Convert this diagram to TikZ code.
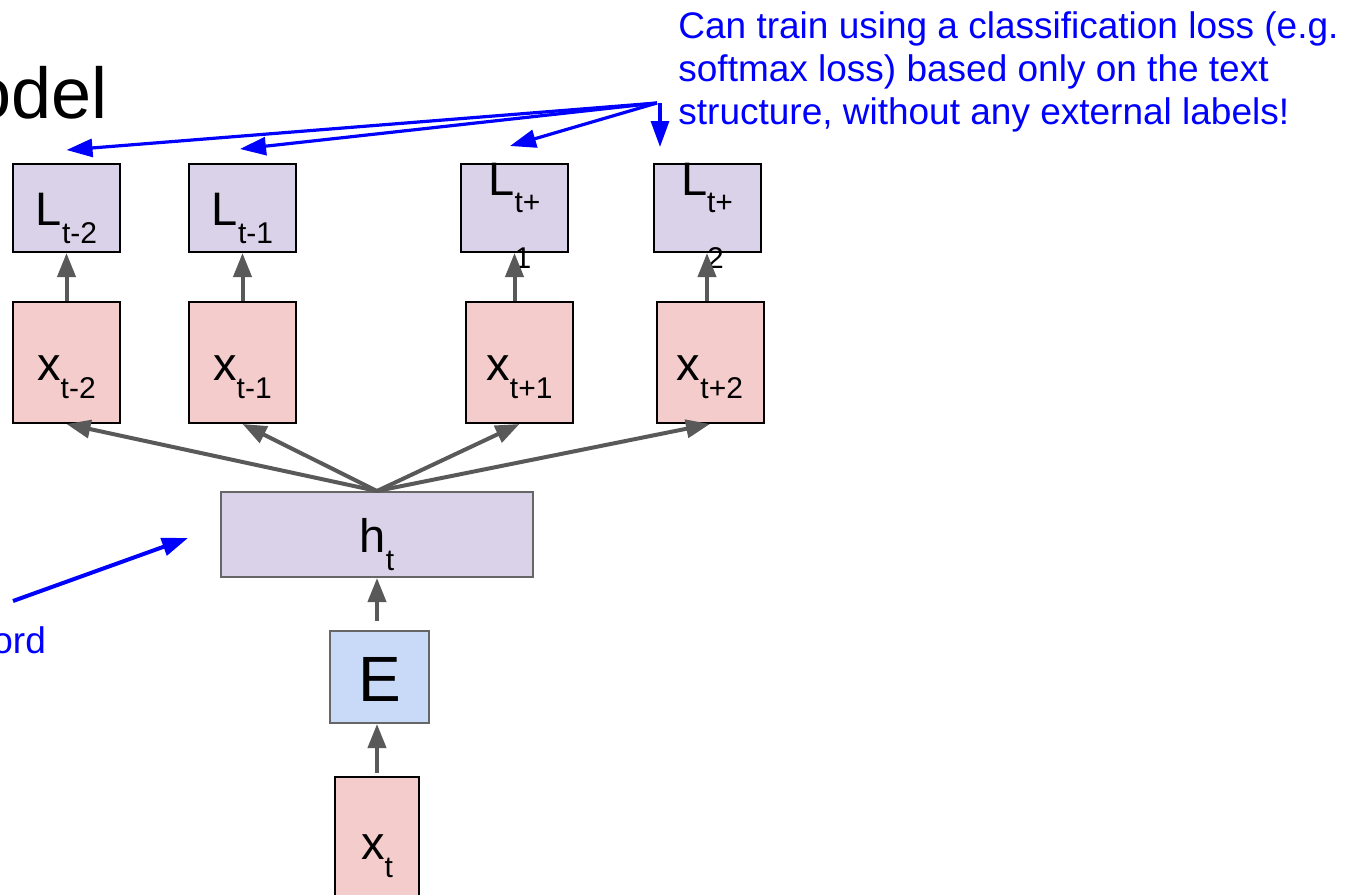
\documentclass[tikz,border=0pt]{standalone}
\usepackage{fontspec}
\setmainfont{Liberation Sans}
\usetikzlibrary{arrows.meta, positioning, calc}

\definecolor{lossfill}{HTML}{D9D2E9}
\definecolor{wordfill}{HTML}{F4CCCC}
\definecolor{embfill}{HTML}{C9DAF8}
\definecolor{arrowgray}{HTML}{595959}
\definecolor{framegray}{HTML}{666666}

\tikzset{
  loss/.style={draw=black, line width=1pt, fill=lossfill, minimum width=53.5pt, minimum height=44pt, inner sep=0pt},
  word/.style={draw=black, line width=1pt, fill=wordfill, minimum width=53.5pt, minimum height=60.5pt, inner sep=0pt},
  lbl/.style={anchor=base, inner sep=0pt, font=\fontsize{23.5}{27}\selectfont},
  flow/.style={draw=arrowgray, line width=2pt, -{Triangle[length=12pt,width=9pt]}},
  hint/.style={draw=blue, line width=1.6pt, -{Triangle[length=13pt,width=9pt]}},
  note/.style={text=blue, inner sep=0pt, font=\fontsize{18.5}{21.5}\selectfont},
}
% letter with a lowered index, and one whose index breaks onto a second line
\newcommand{\idx}[2]{#1\raisebox{-9pt}{\fontsize{15}{18}\selectfont #2}}
\newcommand{\idxwrap}[3]{#1\raisebox{-8.5pt}{\fontsize{15}{28}\selectfont\begin{tabular}[t]{@{}l@{}}#2\\#3\end{tabular}}}

\begin{document}
\begin{tikzpicture}[x=0.5pt, y=-0.5pt]
\useasboundingbox (0,0) rectangle (1348,894);

% loss boxes
\node[loss] (Lm2) at (66.5,208) {};
\node[loss] (Lm1) at (242.5,208) {};
\node[loss] (Lp1) at (514.5,208) {};
\node[loss] (Lp2) at (707,208) {};

% context words
\node[word, below=24pt of Lm2] (xm2) {};
\node[word, below=24pt of Lm1] (xm1) {};
\node[word, below=24pt of Lp1, xshift=2.5pt] (xp1) {};
\node[word, below=24pt of Lp2, xshift=1.5pt] (xp2) {};

% hidden layer, embedding, center word
\node[draw=framegray, line width=1pt, fill=lossfill, minimum width=156pt, minimum height=42.5pt] (h) at (377,534.5) {};
\node[draw=framegray, line width=1pt, fill=embfill, minimum width=49.5pt, minimum height=46pt, below=26pt of h, xshift=1.25pt] (E) {};
\node[word, minimum width=42pt, minimum height=65pt, below=26pt of E, xshift=-1.25pt] (xt) {};

% labels
\node[lbl] (tLm2) at ([yshift=-8.75pt]Lm2.center) {\idx{L}{t-2}};
\node[lbl] (tLm1) at ([yshift=-8.75pt]Lm1.center) {\idx{L}{t-1}};
\node[lbl] (tLp1) at ([yshift=6.5pt]Lp1.center) {\idxwrap{L}{t+}{1}};
\node[lbl] (tLp2) at ([yshift=6.5pt]Lp2.center) {\idxwrap{L}{t+}{2}};
\node[lbl] (txm2) at ([yshift=-8.75pt]xm2.center) {\idx{x}{t-2}};
\node[lbl] (txm1) at ([yshift=-8.75pt]xm1.center) {\idx{x}{t-1}};
\node[lbl] (txp1) at ([yshift=-8.75pt]xp1.center) {\idx{x}{t+1}};
\node[lbl] (txp2) at ([yshift=-8.75pt]xp2.center) {\idx{x}{t+2}};
\node[lbl] (th) at ([yshift=-8.75pt]h.center) {\idx{h}{t}};
\node[lbl, font=\fontsize{32}{36}\selectfont] (tE) at ([yshift=-12pt]E.center) {E};
\node[lbl] (txt) at ([yshift=-8.75pt]xt.center) {\idx{x}{t}};

% forward connections
\draw[flow] (xm2) -- (Lm2);
\draw[flow] (xm1) -- (Lm1);
\draw[flow] (xp1.north -| Lp1.south) -- (Lp1.south);
\draw[flow] (xp2.north -| Lp2.south) -- (Lp2.south);
\foreach \n in {xm2,xm1,xp1,xp2}
  \draw[flow] (h.north) -- (\n.south);
\draw[flow, shorten <=4.5pt] (E.north -| h.south) -- (h.south);
\draw[flow, shorten <=1.5pt] (xt.north) -- (xt.north |- E.south);

% notes
\node[anchor=base west, inner sep=0pt, font=\fontsize{36}{40}\selectfont] (title) at (-29,118) {odel};
\node[note, anchor=north west, align=left] (claim) at (678,11)
  {Can train using a classification loss (e.g.\\softmax loss) based only on the text\\structure, without any external labels!};
\node[note, anchor=base west] (word) at (-8,653) {ord};

\coordinate (src) at (657,103);
\coordinate (drop) at (660,103);
\draw[hint] (src) -- ([yshift=6.5pt]Lm2.north);
\draw[hint] (src) -- ([shift={(-1.25pt,7pt)}]Lm1.north);
\draw[hint] (src) -- ([shift={(-2.25pt,8.5pt)}]Lp1.north);
\draw[hint] (drop) -- ([shift={(-23.5pt,8pt)}]Lp2.north);

\coordinate (wtail) at (13,601);
\coordinate (whead) at (188,538);
\draw[hint, line width=2pt] (wtail) -- (whead);
\end{tikzpicture}
\end{document}
